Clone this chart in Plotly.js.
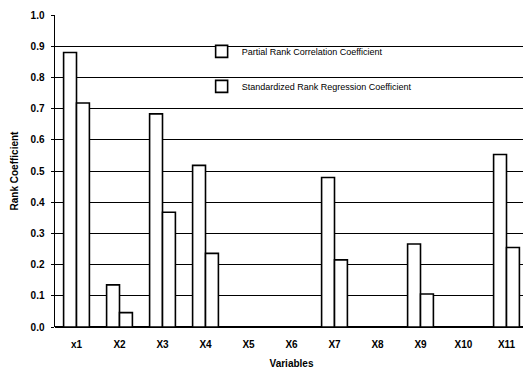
<!DOCTYPE html>
<html>
<head>
<meta charset="utf-8">
<script src="https://cdn.plot.ly/plotly-3.0.1.min.js"></script>
<style>
html,body{margin:0;padding:0;background:#fff;overflow:hidden;width:523px;height:374px;}
#chart{width:530px;height:374px;}
</style>
</head>
<body>
<div id="chart"></div>
<script>
const categories = ["x1","X2","X3","X4","X5","X6","X7","X8","X9","X10","X11"];
const partialRank = [0.88,0.135,0.683,0.518,null,null,0.479,null,0.266,null,0.553];
const standardizedRank = [0.718,0.046,0.368,0.236,null,null,0.215,null,0.106,null,0.255];
const yTickVals = [0,0.1,0.2,0.3,0.4,0.5,0.6,0.7,0.8,0.9,1.0];
const yTickText = ["0.0","0.1","0.2","0.3","0.4","0.5","0.6","0.7","0.8","0.9","1.0"];

const barStyle = {color:"#ffffff", line:{color:"#000000", width:1.6}};
const traces = [
  {type:"bar", name:"Partial Rank Correlation Coefficient", x:categories, y:partialRank,
   marker:barStyle, legendgroup:"a", hoverinfo:"skip"},
  {type:"bar", name:"Standardized Rank Regression Coefficient", x:categories, y:standardizedRank,
   marker:barStyle, legendgroup:"b", hoverinfo:"skip"}
];

const layout = {
  width:530, height:374,
  margin:{l:55, r:2, t:15, b:47},
  paper_bgcolor:"#fff", plot_bgcolor:"#fff",
  font:{family:"Arial, 'Liberation Sans', sans-serif", color:"#000"},
  barmode:"group", bargap:0.4, bargroupgap:0,
  showlegend:true,
  legend:{x:0.31, y:0.93, xanchor:"left", yanchor:"top", bgcolor:"rgba(0,0,0,0)",
          font:{size:9, color:"#000"}, traceorder:"grouped", tracegroupgap:16,
          itemwidth:30},
  xaxis:{
    type:"category", range:[-0.5,10.5],
    showgrid:false, showline:false, zeroline:false,
    ticks:"", ticklabelstandoff:10, tickfont:{size:10, weight:"bold"},
    title:{text:"Variables", font:{size:10, weight:"bold"}, standoff:10}
  },
  yaxis:{
    range:[0,1.0], tickvals:yTickVals, ticktext:yTickText,
    showgrid:true, gridcolor:"#000", gridwidth:1,
    showline:true, linecolor:"#000", linewidth:1.5,
    zeroline:true, zerolinecolor:"#000", zerolinewidth:1.5,
    ticks:"outside", ticklen:3, tickcolor:"#000", tickwidth:1,
    ticklabelstandoff:4,
    tickfont:{size:10, weight:"bold"},
    title:{text:"Rank Coefficient", font:{size:10, weight:"bold"}, standoff:10}
  }
};

Plotly.newPlot("chart", traces, layout, {displayModeBar:false, staticPlot:true});
</script>
</body>
</html>
